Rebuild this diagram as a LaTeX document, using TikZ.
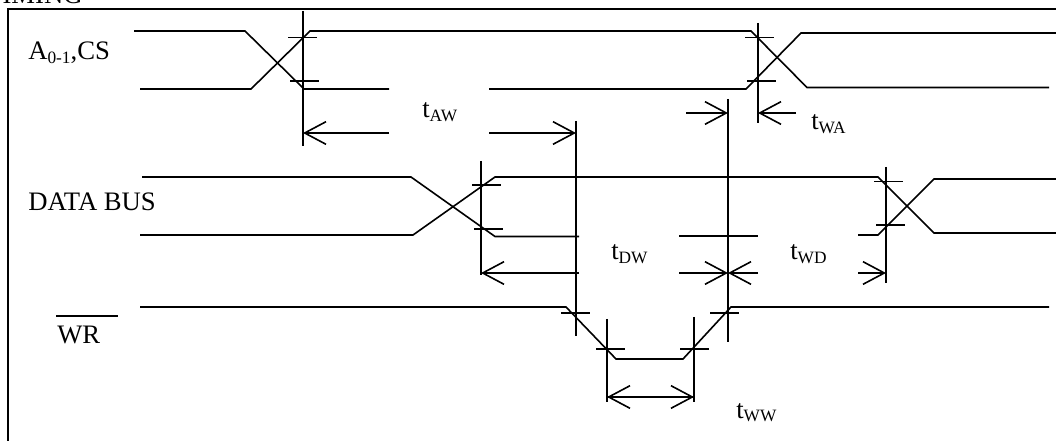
\documentclass[tikz,border=0pt]{standalone}
\usepackage{fontspec}
\setmainfont{Liberation Serif}
\usetikzlibrary{arrows.meta}
\newcommand{\lowidx}[1]{\raisebox{-0.25ex}{\fontsize{13}{13}\selectfont #1}}
\begin{document}
\begin{tikzpicture}[
	x=0.75pt,y=-0.75pt,
	font=\fontsize{20}{24}\selectfont,
	sig/.style={line width=1.2pt},
	bar/.style={line width=1.2pt},
	tk/.style={line width=1.2pt},
	dim/.style={line width=1.2pt,-{Straight Barb[length=16pt,width=17pt]}},
	frm/.style={line width=2pt},
	lab/.style={inner sep=0pt,anchor=base west},
	]
\useasboundingbox (0,0) rectangle (1056,441);
\begin{scope}
	\clip (0,0) rectangle (1056,441);
	\node (title) [lab] at (-14,4) {TIMING};
\end{scope}
\draw [frm] (8,441) -- (8,9) -- (1056,9);
\node (addr) [lab] at (28,60) {A\lowidx{0-1},CS};
\node (data) [lab] at (28,211) {DATA BUS};
\node (wr) [lab] at (57,344) {WR};
\node (twa) [lab] at (811,130) {t\lowidx{WA}};
\node (taw) [lab] at (422,118) {t\lowidx{AW}};
\node (tdw) [lab] at (611,260) {t\lowidx{DW}};
\node (twd) [lab] at (790,260) {t\lowidx{WD}};
\node (tww) [lab] at (736,418) {t\lowidx{WW}};
\draw [sig] (56,316) -- (118,316);
% address lines
\draw [sig] (134,31) -- (245,31) -- (304,89) -- (389,89);
\draw [sig] (140,89) -- (251,89) -- (310,31) -- (751,31) -- (807,87.5) -- (1049,87.5);
\draw [sig] (489,89) -- (746,89) -- (801,33) -- (1056,33);
% data lines
\draw [sig] (142,177) -- (411,177) -- (495,236.5) -- (579,236.5);
\draw [sig] (140,235) -- (413,235) -- (495,177) -- (878,177) -- (934,233) -- (1056,233);
\draw [sig] (679,236) -- (758,236);
\draw [sig] (858,235) -- (878,235) -- (934,179) -- (1056,179);
% write strobe
\draw [sig] (140,307) -- (566,307) -- (616,359) -- (683,359) -- (731,307) -- (1049,307);
% time marks
\foreach \x/\ya/\yb in {303/11/146,758/23/123,481/161/275,886/167/283,576/121/336,728/99/342,607/319/402,694/317/402}
	\draw [bar] (\x,\ya) -- (\x,\yb);
\foreach \x/\y in {288/37.5,290/81,745/37.5,747/81,472/185,474/229,874/181.5,876/225,561/313,596/349,680/349,710/313}
	\draw [tk] (\x,\y) -- (\x+29,\y);
% spans
\draw [dim] (389,133) -- (303,133);
\draw [dim] (489,133) -- (576,133);
\draw [dim] (686,113) -- (728,113);
\draw [dim] (796,113) -- (758,113);
\draw [dim] (579,273) -- (481,273);
\draw [dim] (679,273) -- (728,273);
\draw [dim] (758,273) -- (728,273);
\draw [dim] (858,273) -- (886,273);
\draw [dim] (607,397) -- (694,397);
\draw [dim] (694,397) -- (607,397);
\end{tikzpicture}
\end{document}
